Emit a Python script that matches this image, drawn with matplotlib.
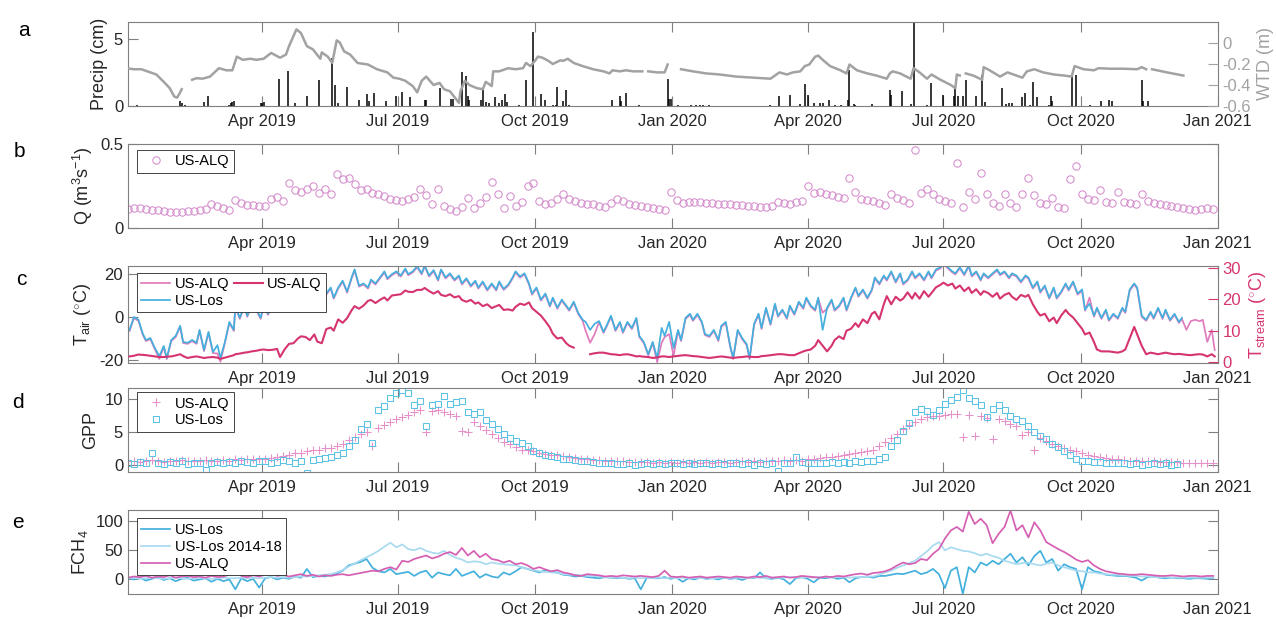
import numpy as np
import matplotlib
matplotlib.use("Agg")
import matplotlib.pyplot as plt
import matplotlib.dates as mdates

plt.rcParams['font.family'] = ['Liberation Sans', 'DejaVu Sans']
plt.rcParams['mathtext.fontset'] = 'custom'
plt.rcParams['mathtext.rm'] = 'Liberation Sans'
plt.rcParams['mathtext.it'] = 'Liberation Sans:italic'
plt.rcParams['mathtext.bf'] = 'Liberation Sans:bold'
plt.rcParams['axes.unicode_minus'] = False

nan = np.nan

# ---------------------------------------------------------------- time axis
START = '2019-01-01'
END = '2021-01-01'
tick_dates = ['2019-04-01', '2019-07-01', '2019-10-01', '2020-01-01',
              '2020-04-01', '2020-07-01', '2020-10-01', '2021-01-01']
tick_labels = ['Apr 2019', 'Jul 2019', 'Oct 2019', 'Jan 2020',
               'Apr 2020', 'Jul 2020', 'Oct 2020', 'Jan 2021']

# ---------------------------------------------------------------- (a) precipitation, cm (day offset from 1 Jan 2019)
precip_days = [6, 35, 36, 38, 51, 54, 68, 69, 70, 71,
               89, 90, 91, 101, 107, 112, 120, 128, 137, 139,
               141, 147, 155, 160, 162, 165, 173, 180, 184, 189,
               199, 200, 209, 217, 218, 224, 227, 228, 229, 237,
               238, 240, 242, 246, 249, 251, 253, 254, 262, 267,
               272, 277, 280, 285, 287, 288, 292, 294, 296, 325,
               330, 331, 334, 343, 362, 363, 364, 369, 378, 381,
               384, 386, 390, 431, 437, 444, 451, 454, 456, 460,
               464, 466, 470, 474, 478, 483, 484, 487, 488, 499,
               511, 512, 519, 525, 527, 536, 539, 547, 554, 555,
               557, 560, 562, 569, 573, 575, 586, 589, 591, 593,
               600, 602, 605, 607, 610, 618, 619, 620, 633, 636,
               645, 653, 658, 660, 680, 681, 684]
precip_cm = [0.05, 0.35, 0.2, 0.05, 0.28, 0.72, 0.1, 0.2, 0.3, 0.35,
             0.2, 0.22, 0.28, 2.05, 2.65, 0.22, 0.72, 1.92, 3.6, 1.6,
             0.22, 1.42, 0.48, 0.88, 0.35, 0.98, 0.35, 0.72, 1.02, 0.65,
             0.45, 0.48, 1.35, 0.55, 0.55, 2.52, 2.27, 0.72, 0.48, 0.48,
             1.27, 0.28, 0.2, 0.68, 0.2, 0.48, 0.92, 0.3, 0.05, 1.98,
             5.52, 0.92, 0.42, 0.05, 0.05, 1.42, 0.35, 1.18, 0.1, 0.42,
             0.72, 0.35, 0.98, 0.1, 2.02, 0.52, 0.52, 0.05, 0.08, 0.08,
             0.1, 0.08, 0.05, 0.08, 0.78, 0.85, 0.15, 1.65, 0.85, 0.2,
             0.2, 0.2, 0.42, 0.1, 0.08, 0.45, 2.68, 0.15, 0.08, 0.18,
             1.18, 0.85, 1.15, 0.15, 6.3, 0.05, 1.72, 0.8, 0.72, 1.42,
             0.72, 0.72, 1.98, 0.72, 2.35, 0.28, 1.35, 0.15, 0.2, 0.2,
             0.68, 0.98, 0.1, 1.78, 0.68, 0.1, 0.72, 0.4, 2.35, 2.35,
             0.08, 0.35, 0.48, 0.4, 1.98, 0.4, 0.35]

# ---------------------------------------------------------------- (a) water table depth, m
wtd_days = [0, 4, 9, 19, 24, 28, 31, 33, 35, 36,
            38, 43, 46, 50, 55, 61, 66, 70, 73, 77,
            82, 86, 91, 96, 102, 106, 108, 113, 116, 120,
            124, 129, 130, 134, 137, 140, 142, 145, 149, 154,
            161, 167, 174, 178, 182, 186, 191, 194, 197, 200,
            205, 209, 212, 216, 222, 223, 226, 229, 234, 238,
            240, 244, 245, 249, 255, 260, 265, 267, 270, 273,
            275, 278, 282, 285, 290, 292, 295, 299, 305, 312,
            319, 323, 325, 330, 334, 339, 345, 347, 349, 355,
            360, 362, 366, 371, 379, 388, 397, 408, 419, 431,
            433, 437, 442, 446, 451, 454, 457, 461, 463, 466,
            471, 478, 482, 484, 489, 496, 502, 509, 511, 513,
            518, 525, 527, 531, 536, 539, 545, 552, 555, 556,
            558, 560, 562, 567, 573, 574, 578, 585, 590, 594,
            600, 603, 608, 614, 621, 628, 633, 635, 641, 648,
            651, 659, 668, 677, 680, 683, 685, 687, 697, 708]
wtd_m = [-0.243, -0.25, -0.25, -0.30, -0.37, -0.43, -0.51, -0.52, -0.47, -0.44,
         nan, -0.35, -0.335, -0.34, -0.32, -0.24, -0.26, -0.26, -0.13, -0.16,
         -0.15, -0.16, -0.15, -0.095, -0.14, -0.11, -0.03, 0.13, 0.095, -0.03,
         -0.06, -0.15, -0.09, -0.13, -0.19, 0.025, 0.006, -0.08, -0.11, -0.19,
         -0.205, -0.25, -0.28, -0.33, -0.34, -0.36, -0.41, -0.47, -0.36, -0.32,
         -0.40, -0.38, -0.44, -0.46, -0.57, -0.46, -0.36, -0.40, -0.43, -0.44,
         -0.37, -0.41, -0.27, -0.27, -0.24, -0.25, -0.24, -0.19, -0.22, -0.17,
         -0.13, -0.14, -0.17, -0.20, -0.165, -0.17, -0.15, -0.19, -0.22, -0.25,
         -0.27, -0.29, -0.26, -0.27, -0.26, -0.27, -0.27, nan, -0.27, -0.28,
         -0.28, -0.205, nan, -0.25, -0.27, -0.29, -0.30, -0.32, -0.33, -0.34,
         -0.32, -0.28, -0.30, -0.28, -0.27, -0.22, -0.205, -0.13, -0.12, -0.16,
         -0.22, -0.26, -0.29, -0.205, -0.26, -0.29, -0.31, -0.34, -0.29, -0.27,
         -0.29, -0.34, -0.24, -0.28, -0.34, -0.30, -0.35, -0.40, -0.43, -0.30,
         -0.31, nan, -0.29, -0.31, -0.35, -0.23, -0.26, -0.32, -0.28, -0.30,
         -0.33, -0.27, -0.25, -0.28, -0.30, -0.31, -0.32, -0.22, -0.25, -0.26,
         -0.24, -0.245, -0.245, -0.25, -0.23, -0.25, nan, -0.25, -0.28, -0.31]

# ---------------------------------------------------------------- 4-day sampled series (days 0, 4, ..., 728)
q_alq = [0.115, 0.12, 0.122, 0.113, 0.108, 0.105, 0.10, 0.098, 0.096, 0.095,
         0.10, 0.103, 0.106, 0.112, 0.14, 0.128, 0.12, 0.11, 0.165, 0.15,
         0.138, 0.136, 0.133, 0.13, 0.175, 0.185, 0.163, 0.27, 0.225, 0.215,
         0.23, 0.25, 0.21, 0.235, 0.2, 0.32, 0.29, 0.295, 0.26, 0.225,
         0.235, 0.21, 0.2, 0.19, 0.17, 0.165, 0.16, 0.175, 0.185, 0.23,
         0.195, 0.14, 0.235, 0.13, 0.115, 0.10, 0.125, 0.18, 0.12, 0.15,
         0.185, 0.275, 0.2, 0.12, 0.19, 0.13, 0.155, 0.25, 0.265, 0.16,
         0.14, 0.15, 0.17, 0.2, 0.175, 0.16, 0.15, 0.145, 0.14, 0.13,
         0.123, 0.15, 0.17, 0.16, 0.14, 0.135, 0.13, 0.125, 0.12, 0.113,
         0.11, 0.215, 0.165, 0.15, 0.152, 0.155, 0.153, 0.15, 0.148, 0.145,
         0.143, 0.14, 0.138, 0.135, 0.132, 0.128, 0.125, 0.123, 0.128, 0.155,
         0.148, 0.14, 0.155, 0.16, 0.25, 0.21, 0.215, 0.2, 0.195, 0.185,
         0.178, 0.295, 0.215, 0.17, 0.165, 0.16, 0.15, 0.135, 0.205, 0.18,
         0.165, 0.15, 0.466, 0.21, 0.235, 0.2, 0.175, 0.16, 0.15, 0.387,
         0.125, 0.215, 0.17, 0.327, 0.2, 0.15, 0.13, 0.2, 0.15, 0.125,
         0.2, 0.298, 0.198, 0.15, 0.14, 0.178, 0.125, 0.118, 0.294, 0.367,
         0.2, 0.175, 0.165, 0.225, 0.155, 0.15, 0.215, 0.155, 0.148, 0.145,
         0.205, 0.16, 0.15, 0.143, 0.138, 0.13, 0.125, 0.12, 0.115, 0.11,
         0.115, 0.118, 0.115]

gpp_alq = [0.6, 0.7, 0.5, 0.6, 0.8, 0.6, 0.5, 0.7, 0.6, 0.8,
           0.6, 0.7, 0.6, 0.8, 0.7, 0.6, 0.8, 0.7, 0.9, 0.8,
           0.9, 1.0, 0.9, 1.0, 1.1, 1.3, 1.4, 1.6, 1.8, 1.9,
           2.1, 2.3, 2.4, 2.6, 2.7, 3.0, 3.3, 3.8, 4.3, 4.7,
           5.0, 3.0, 5.6, 6.1, 6.5, 7.0, 7.3, 7.6, 8.0, 8.3,
           5.0, 8.2, 8.4, 8.0, 7.8, 7.5, 5.2, 5.0, 6.5, 6.0,
           5.3, 4.8, 4.2, 3.6, 3.2, 2.8, 2.4, 2.3, 2.2, 1.9,
           1.7, 1.6, 1.5, 1.4, 1.2, 1.1, 1.0, 0.9, 0.8, 0.8,
           0.7, 0.7, 0.6, 0.6, 0.5, 0.5, 0.5, 0.5, 0.4, 0.5,
           0.4, 0.5, 0.4, 0.5, 0.4, 0.5, 0.4, 0.5, 0.4, 0.5,
           0.5, 0.4, 0.5, 0.6, 0.5, 0.6, 0.5, 0.6, 0.7, 0.6,
           0.8, 0.7, 0.8, 0.7, 0.9, 1.0, 1.1, 1.2, 1.3, 1.4,
           1.5, 1.7, 1.8, 2.0, 2.2, 2.4, 3.0, 3.6, 4.2, 4.8,
           5.5, 6.1, 6.6, 7.0, 7.3, 7.4, 7.5, 7.6, 7.7, 7.7,
           4.3, 7.6, 4.5, 7.4, 7.2, 4.0, 7.0, 6.7, 6.3, 5.9,
           4.6, 5.0, 2.3, 4.1, 3.7, 3.3, 3.0, 2.7, 2.4, 2.1,
           1.8, 1.6, 1.4, 1.2, 1.1, 1.0, 0.9, 0.8, 0.7, 0.7,
           0.6, 0.6, 0.6, 0.5, 0.5, 0.5, 0.5, 0.4, 0.4, 0.4,
           0.4, 0.4, 0.4]

gpp_los = [0.4, 0.2, 0.5, 0.3, 1.9, 0.4, 0.2, 0.5, 0.3, 0.6,
           0.2, 0.4, 0.3, -0.7, 0.4, 0.5, 0.3, 0.5, 0.4, 0.6,
           0.5, 0.3, 0.6, 0.7, 0.4, 0.5, 0.8, 0.6, 0.3, 0.7,
           -1.2, 0.8, 0.9, 1.1, 1.3, 1.5, 1.9, 2.9, 3.8, 5.5,
           6.3, 3.4, 8.3, 9.0, 10.2, 11.0, 11.4, 10.9, 9.2, 9.8,
           6.0, 9.1, 9.3, 10.5, 9.3, 9.6, 9.8, 8.1, 7.8, 8.0,
           6.8, 6.3, 5.5, 4.7, 4.2, 3.7, 3.4, 3.0, 2.2, 1.9,
           1.6, 1.4, 1.2, 1.0, 0.9, 0.8, 0.7, 0.6, 0.5, 0.4,
           0.3, 0.4, 0.2, 0.2, 0.3, 0.1, 0.2, 0.3, 0.2, 0.3,
           0.2, 0.4, 0.3, 0.2, 0.3, 0.2, 0.4, 0.3, 0.2, 0.3,
           0.2, 0.3, 0.4, 0.2, 0.3, 0.1, 0.3, 0.2, 0.3, -0.8,
           0.4, 0.3, 1.3, 0.5, 0.4, 0.3, 0.4, 0.3, 0.5, 0.4,
           0.5, 0.4, 0.6, 0.5, 0.6, 0.7, 0.9, 1.3, 3.0, 3.8,
           5.2, 6.4, 8.0, 8.6, 8.2, 7.6, 8.4, 9.3, 9.9, 10.4,
           11.4, 10.2, 9.8, 9.1, 7.3, 8.6, 9.1, 8.3, 7.4, 7.0,
           6.7, 5.9, 5.1, 4.5, 4.0, 3.2, 2.8, 2.1, 1.6, 0.9,
           0.7, 0.6, 0.5, 0.5, 0.4, 0.4, 0.3, 0.3, 0.2, 0.3,
           0.1, 0.2, 0.3, 0.2, 0.3, 0.1, 0.2, nan, nan, nan,
           nan, nan, nan]

fch4_los = [2, 0, 3, -2, 1, 4, -1, 2, -3, 1,
            3, -2, 0, 2, -4, 1, -3, 0, -17, 2,
            -3, 1, -14, 2, 4, 0, 3, 1, 5, 3,
            18, 4, 6, 5, 8, 10, 15, 24, 27, 30,
            35, 20, 14, 12, 18, 9, 11, 13, 6, 12,
            15, 3, 12, 9, 7, 18, 6, 10, 14, 3,
            9, 5, 3, 12, 8, 14, 21, 18, 15, 12,
            16, 13, 12, 8, 7, 5, 6, 4, 3, 2,
            4, 3, 2, 3, 1, 2, -17, 3, 2, 2,
            4, 1, 3, -4, 2, 0, 3, 1, 2, 0,
            3, 1, 2, -1, 3, 2, 12, 2, 1, 3,
            0, -8, 2, 4, 1, -5, 3, 2, 4, 1,
            3, -5, 2, 4, 5, 3, 6, 6, 8, 10,
            9, 12, 15, 9, 12, 18, 9, -15, 15, 21,
            -25, 21, 12, 29, 24, 32, 26, 35, 44, 29,
            38, 24, 40, 49, 29, 35, 15, 26, 21, 18,
            -17, 21, 14, 12, 8, 7, 6, 6, 5, 3,
            -2, 4, 5, 3, 2, 3, 2, 2, 1, 2,
            2, 1, 2]

fch4_los_2014_18 = [2, 3, 1, 2, 3, 2, 1, 2, 3, 2,
                    1, 2, 3, 2, 1, 2, 3, 2, 2, 3,
                    2, 3, 2, 3, 4, 3, 4, 3, 4, 5,
                    5, 6, 7, 8, 9, 12, 16, 22, 27, 33,
                    38, 43, 49, 56, 63, 55, 60, 52, 50, 54,
                    49, 46, 44, 49, 42, 37, 34, 29, 31, 30,
                    26, 29, 27, 26, 25, 24, 21, 18, 16, 14,
                    13, 12, 11, 9, 8, 8, 7, 6, 6, 5,
                    4, 3, 3, 3, 2, 3, 2, 3, 2, 3,
                    2, 3, 2, 3, 2, 3, 2, 3, 2, 3,
                    3, 2, 3, 3, 2, 3, 3, 2, 3, 3,
                    3, 4, 3, 3, 4, 3, 4, 4, 3, 4,
                    4, 3, 4, 4, 5, 5, 8, 12, 15, 20,
                    24, 28, 32, 40, 48, 58, 64, 50, 55, 52,
                    49, 48, 45, 41, 44, 40, 37, 32, 29, 26,
                    28, 29, 26, 24, 27, 29, 24, 21, 18, 15,
                    14, 12, 12, 10, 9, 8, 8, 7, 6, 6,
                    5, 5, 4, 4, 4, 3, 3, 3, 3, 3,
                    3, 3, 3]

fch4_alq = [3, 5, 4, 6, 3, 5, 4, 7, 3, 5,
            6, 4, 5, 3, 6, 4, 5, 8, 15, 6,
            4, 7, 5, 8, 12, 6, 8, 5, 7, 9,
            6, 8, 5, 7, 6, 8, 9, 7, 9, 11,
            13, 15, 14, 18, 21, 17, 32, 30, 35, 38,
            41, 36, 39, 44, 47, 42, 54, 41, 49, 38,
            44, 35, 33, 29, 32, 26, 28, 24, 18, 21,
            17, 14, 16, 12, 10, 7, 6, 9, 8, 7,
            5, 6, 5, 7, 6, 5, 6, 5, 4, 6,
            15, 5, 4, 5, 3, 4, 5, 3, 4, 5,
            4, 3, 5, 4, 3, 5, 4, 6, 3, 4,
            5, 3, 4, 6, 5, 4, 3, 5, 4, 6,
            5, 7, 9, 10, 8, 11, 12, 14, 18, 24,
            29, 26, 28, 35, 33, 44, 52, 70, 84, 90,
            82, 116, 95, 104, 93, 62, 78, 90, 118, 84,
            93, 72, 98, 84, 64, 58, 52, 47, 41, 34,
            30, 33, 24, 18, 14, 12, 10, 9, 8, 8,
            9, 8, 7, 6, 6, 7, 6, 5, 6, 6,
            5, 6, 6]

# ---------------------------------------------------------------- (c) temperatures, deg C
tair_days = [1, 4, 7, 10, 12, 15, 18, 21, 24, 26,
             29, 32, 35, 37, 40, 43, 46, 48, 51, 54,
             57, 60, 62, 65, 68, 71, 72, 75, 78, 80,
             83, 86, 89, 91, 94, 97, 100, 102, 105, 108,
             111, 114, 116, 119, 122, 125, 127, 130, 133, 136,
             138, 141, 144, 147, 150, 152, 155, 158, 161, 163,
             166, 169, 172, 174, 177, 180, 183, 186, 188, 191,
             194, 197, 199, 202, 205, 208, 210, 213, 216, 219,
             222, 224, 227, 230, 233, 235, 238, 241, 244, 247,
             249, 252, 255, 258, 260, 263, 266, 269, 271, 274,
             277, 280, 283, 285, 288, 291, 294, 296, 299, 302,
             305, 307, 310, 313, 316, 319, 321, 324, 327, 330,
             332, 335, 338, 341, 343, 346, 349, 352, 355, 358,
             360, 363, 366, 369, 371, 374, 377, 379, 382, 385,
             387, 390, 393, 396, 398, 401, 404, 406, 409, 412,
             415, 417, 420, 423, 425, 428, 431, 434, 436, 439,
             442, 444, 447, 450, 453, 455, 458, 461, 463, 466,
             469, 472, 474, 477, 480, 482, 485, 488, 490, 493,
             496, 499, 501, 504, 507, 509, 512, 515, 518, 520,
             523, 526, 528, 531, 534, 537, 539, 542, 545, 547,
             550, 553, 555, 558, 561, 564, 566, 569, 572, 574,
             577, 580, 583, 585, 588, 591, 593, 596, 599, 602,
             604, 607, 610, 612, 615, 618, 621, 623, 626, 629,
             631, 634, 637, 640, 642, 645, 648, 650, 653, 656,
             658, 661, 664, 667, 669, 672, 675, 677, 680, 683,
             686, 688, 691, 694, 696, 699, 702, 705, 707, 710,
             713, 716, 719, 721, 724, 727, 729]

tair_alq = [-6.5, -0.5, -1.8, -8.4, -11.2, -10.3, -15, -19.5, -14, -19.6,
            -11.2, -9.3, -4.6, -12.1, -12.5, -11.2, -12.5, -6.5, -15.9, -7.4,
            -16.8, -17, -20.8, -12.1, -2.8, -6.5, 4.8, -0.9, 4.8, 0.1,
            5.7, 3.3, -0.9, 4.8, 1, 7.6, 2.9, 10.4, 2.9, 9.4,
            4.8, 12.3, 7.6, 12.3, 6.6, 11.3, 4.8, 2.9, 10.4, 13.2,
            8.5, 13.2, 16.4, 11.3, 17.9, 21.6, 14.1, 15.1, 13.2, 16.9,
            15.1, 17.9, 20.7, 17.5, 19.4, 20.7, 18.8, 22, 19.4, 20.7,
            23.1, 19.8, 23.5, 18.8, 21.3, 16.9, 21.6, 17.9, 19.8, 16.9,
            18.8, 15.1, 17.5, 14.1, 16.4, 13.2, 16, 12.3, 15.1, 12.3,
            16, 12.6, 14.5, 17.9, 20.7, 18.3, 19.8, 15.1, 10.4, 13.2,
            7.6, 10.4, 4.8, 8.5, 3.8, 7.6, 4.8, 2.9, 6.6, 1.4,
            -1.8, -6.5, -12, -8, -2.4, -7.4, -4.6, 0.1, -6.5, -2.8,
            -7.4, -2.8, -5.6, -0.9, -9.3, -12.1, -17.8, -12.1, -21, -12,
            -9.3, -8, -18, -6.5, -11.2, -0.9, 1, -1.8, 1, -2.8,
            -8.4, -9.3, -6.5, -11.2, -4.6, -2.8, -14, -19.6, -6.5, -10.3,
            -13.1, -19.6, -3.7, 1, -5.6, 3.8, -3.7, 5.7, 0.1, 2.9,
            -0.9, 4.8, 1, 6.6, 3.8, 8.5, 4.8, 2.9, 8.5, 2,
            3.8, 7.6, 2.9, 4.8, 8.5, 2.9, 8.5, 13.2, 9.4, 12.3,
            8.5, 12.3, 17.9, 15.1, 18.8, 16.9, 20.7, 16, 19.8, 15.1,
            16.9, 20.7, 17.9, 19.8, 16.9, 20.7, 17.9, 21.6, 22.6, 24.5,
            22.6, 20.7, 19.8, 22.6, 19.4, 23.5, 18.8, 20.7, 16.9, 19.8,
            17.9, 19.8, 21.6, 19.4, 20.7, 17.9, 19.8, 18.8, 16, 18.8,
            17.9, 13.2, 16, 11.3, 14.1, 8.5, 13.2, 8.5, 11.3, 15.1,
            12.3, 16, 10.4, 12.3, 2.9, 9, 0.1, 3.8, -0.9, 2.9,
            -1.8, 1, -0.9, 3.8, 1.9, 12.3, 15.1, 13.2, 0.1, -1.8,
            1.9, -0.9, 3.8, -0.9, 2.9, -1.8, 1, -2.8, -0.9, -6,
            -1.9, -1.3, -2, -1.3, -11.6, -6, -15.4]

tair_los = [-6, 0, -1.3, -7.9, -10.7, -9.8, -14.4, -18.2, -13.5, -19.1,
            -10.7, -8.8, -4.1, -11.6, -12, -10.7, -12, -6, -15.4, -6.9,
            -16.3, -13.1, -19.1, -11.6, -2.3, -6, 5.3, -0.4, 5.3, 0.6,
            6.2, 3.8, -0.4, 5.3, 1.5, 8.1, 3.4, 10.9, 3.4, 9.9,
            5.3, 12.8, 8.1, 12.8, 7.1, 11.8, 5.3, 3.4, 10.9, 13.7,
            9, 13.7, 16.9, 11.8, 18.4, 22.1, 14.6, 15.6, 13.7, 17.4,
            15.6, 18.4, 21.2, 18, 19.9, 21.2, 19.3, 22.5, 19.9, 21.2,
            23.6, 20.3, 24, 19.3, 21.8, 17.4, 22.1, 18.4, 20.3, 17.4,
            19.3, 15.6, 18, 14.6, 16.9, 13.7, 16.5, 12.8, 15.6, 12.8,
            16.5, 13.1, 15, 18.4, 21.2, 18.8, 20.3, 15.6, 10.9, 13.7,
            8.1, 10.9, 5.3, 9, 4.3, 8.1, 5.3, 3.4, 7.1, 1.9,
            -1.3, -2.3, -6, -3.2, -1.9, -6.9, -4.1, 0.6, -6, -2.3,
            -6.9, -2.3, -5.1, -0.4, -8.8, -11.6, -17.3, -11.6, -19.1, -5.1,
            -8.8, -2.3, -14.4, -6, -10.7, -0.4, 1.5, -1.3, 1.5, -2.3,
            -7.9, -8.8, -6, -10.7, -4.1, -2.3, -13.5, -19.1, -6, -9.8,
            -12.6, -19.1, -3.2, 1.5, -5.1, 4.3, -3.2, 6.2, 0.6, 3.4,
            -0.4, 5.3, 1.5, 7.1, 4.3, 9, 5.3, 3.4, 9, -6,
            4.3, 8.1, 3.4, 5.3, 9, 3.4, 9, 13.7, 9.9, 12.8,
            9, 12.8, 18.4, 15.6, 19.3, 17.4, 21.2, 16.5, 20.3, 15.6,
            17.4, 21.2, 18.4, 20.3, 17.4, 21.2, 18.4, 22.1, 23.1, 25,
            23.1, 21.2, 20.3, 23.1, 19.9, 24, 19.3, 21.2, 17.4, 20.3,
            18.4, 20.3, 22.1, 19.9, 21.2, 18.4, 20.3, 19.3, 16.5, 19.3,
            18.4, 13.7, 16.5, 11.8, 14.6, 9, 13.7, 9, 11.8, 15.6,
            12.8, 16.5, 10.9, 12.8, 3.4, 6.2, 0.6, 4.3, -0.4, 3.4,
            -1.3, 1.5, -0.4, 4.3, 2.4, 12.8, 15.6, 13.7, 0.6, -1.3,
            2.4, -0.4, 4.3, -0.4, 3.4, -1.3, 1.5, -2.3, -0.4, nan,
            nan, nan, nan, nan, nan, nan, nan]

tstream_alq = [1.8, 2.0, 2.4, 2.3, 2.2, 2.0, 1.8, 1.6, 1.6, 1.7,
               1.8, 2.1, 2.5, 1.9, 1.3, 1.6, 1.8, 1.6, 1.3, 1.5,
               1.6, 1.4, 1.0, 1.4, 1.8, 2.2, 2.5, 2.7, 3.0, 3.1,
               3.4, 3.6, 3.9, 4.0, 3.8, 3.9, 4.2, 1.6, 4.0, 5.8,
               6.0, 7.5, 8.2, 8.0, 7.0, 8.8, 6.5, 6.0, 10.5, 11.0,
               10.0, 13.6, 12.5, 14.0, 16.5, 17.8, 17.0, 18.0, 19.5, 19.8,
               18.8, 19.8, 20.6, 19.6, 21.2, 21.4, 21.6, 22.8, 22.4, 22.3,
               23.0, 23.0, 23.6, 22.6, 21.8, 22.6, 21.4, 21.0, 21.6, 20.6,
               21.0, 19.8, 19.2, 19.8, 18.6, 19.0, 17.8, 18.4, 17.2, 17.8,
               18.2, 16.6, 16.8, 16.4, 17.6, 18.6, 18.2, 19.0, 17.2, 16.0,
               14.8, 13.0, 11.0, 9.0, 7.5, 7.8, 6.0, 5.2, 4.6, nan,
               nan, nan, 2.5, 2.8, 3.0, 3.0, 2.8, 2.5, 2.4, 2.2,
               2.4, 2.5, 2.2, 1.8, 1.9, 1.7, 1.6, 1.3, 1.5, 1.8,
               1.8, 1.6, 1.8, 2.0, 2.1, 2.2, 2.0, 1.9, 1.8, 1.6,
               1.5, 1.3, 1.5, 1.7, 1.8, 1.6, 1.4, 1.3, 1.5, 1.6,
               1.8, 1.7, 1.6, 1.6, 1.9, 2.0, 2.2, 2.4, 2.5, 2.5,
               2.3, 2.2, 2.2, 2.8, 3.4, 3.7, 4.0, 5.2, 7.0, 5.2,
               3.4, 5.2, 7.0, 8.2, 7.3, 10.0, 10.6, 12.4, 11.2, 13.6,
               12.4, 15.4, 16.0, 13.6, 18.4, 21.0, 18.4, 20.8, 19.6, 20.2,
               22.2, 20.2, 22.0, 20.2, 22.6, 20.8, 22.0, 23.8, 24.6, 25.3,
               24.4, 25.0, 23.4, 24.4, 22.6, 23.8, 22.0, 23.2, 21.4, 22.6,
               22.0, 20.8, 22.0, 20.2, 21.4, 22.0, 20.8, 19.8, 21.4, 20.8,
               21.4, 18.4, 16.0, 14.8, 15.4, 13.0, 14.2, 12.4, 14.8, 16.6,
               15.4, 14.2, 12.4, 10.6, 8.8, 9.4, 6.4, 4.0, 3.4, 3.4,
               3.4, 3.2, 3.0, 3.4, 4.0, 7.6, 11.2, 8.8, 5.2, 2.5,
               3.0, 2.8, 2.5, 2.8, 3.0, 2.7, 2.5, 2.6, 2.5, 2.3,
               2.2, 2.4, 2.5, 2.4, 1.8, 2.5, 1.8]

# ---------------------------------------------------------------- helpers
T0 = mdates.datestr2num(START)
T1 = mdates.datestr2num(END)


def on_time(days):
    return T0 + np.asarray(days, dtype=float)


grid4 = on_time(np.arange(0, 729, 4))

SPINE = '#7f7f7f'
TXT = '#262626'
ALQ_PINK = '#e07cbd'
STREAM_RED = '#d63470'
LOS_BLUE = '#44b0dd'
LOS_LIGHT = '#a8daf0'
ALQ_CH4 = '#d65fb3'
WTD_GREY = '#a2a2a2'


def style(ax, right=True):
    for s in ax.spines.values():
        s.set_color(SPINE)
        s.set_linewidth(0.8)
    ax.set_xlim(T0, T1)
    ax.set_xticks(mdates.datestr2num(tick_dates))
    ax.set_xticklabels(tick_labels)
    ax.tick_params(direction='in', length=7, width=0.8, color=SPINE,
                   labelcolor=TXT, labelsize=12, top=True, right=right)
    ax.tick_params(axis='x', pad=6)


def legend(ax, handles, labels, y, **kw):
    opts = dict(loc='upper left', bbox_to_anchor=(0.008, y), fontsize=10.5,
                frameon=True, fancybox=False, framealpha=1, edgecolor=TXT,
                borderpad=0.3, handlelength=2.0, handletextpad=0.3,
                labelspacing=0.2, borderaxespad=0)
    opts.update(kw)
    lg = ax.legend(handles, labels, **opts)
    lg.get_frame().set_linewidth(0.6)
    return lg


fig = plt.figure(figsize=(12.76, 6.19), dpi=100)
FW, FH = 1276.0, 619.0
left, width = 128 / FW, 1089.7 / FW
# (top, bottom) of every panel in pixels from the top edge
rows = [(22, 106), (144, 228), (266, 363), (388, 472), (510, 594)]
axs = [fig.add_axes([left, 1 - b / FH, width, (b - t) / FH]) for t, b in rows]

# ---------------------------------------------------------------- (a)
ax = axs[0]
style(ax, right=False)
ax.vlines(on_time(precip_days), 0, precip_cm, color='k', lw=1.1)
ax.set_ylim(0, 6.3)
ax.set_yticks([0, 5])
ax.set_yticklabels(['0', '5'])
ax.set_ylabel('Precip (cm)', fontsize=13, color=TXT)
axw = ax.twinx()
axw.plot(on_time(wtd_days), wtd_m, color=WTD_GREY, lw=1.8)
axw.set_xlim(T0, T1)
axw.set_ylim(-0.6, 0.2)
axw.set_yticks([-0.6, -0.4, -0.2, 0])
axw.set_yticklabels(['-0.6', '-0.4', '-0.2', '0'])
axw.tick_params(axis='y', direction='in', length=7, width=0.8, color=WTD_GREY,
                labelcolor=WTD_GREY, labelsize=12)
for s in axw.spines.values():
    s.set_visible(False)
axw.set_ylabel('WTD (m)', fontsize=13, color=WTD_GREY)

# ---------------------------------------------------------------- (b)
ax = axs[1]
style(ax)
hq, = ax.plot(grid4, q_alq, ls='none', marker='o', ms=5.3, mfc='none',
              mec='#d48ccb', mew=0.75)
ax.set_ylim(0, 0.5)
ax.set_yticks([0, 0.5])
ax.set_yticklabels(['0', '0.5'])
ax.set_ylabel('Q (m$^3$s$^{-1}$)', fontsize=13, color=TXT)
legend(ax, [hq], ['US-ALQ'], 0.93)

# ---------------------------------------------------------------- (c)
ax = axs[2]
style(ax, right=False)
tdates = on_time(tair_days)
h1, = ax.plot(tdates, tair_alq, color=ALQ_PINK, lw=1.25)
h2, = ax.plot(tdates, tair_los, color=LOS_BLUE, lw=1.25)
ax.set_ylim(-21.4, 23.7)
ax.set_yticks([-20, 0, 20])
ax.set_yticklabels(['-20', '0', '20'])
ax.set_ylabel('T$_{\\rm air}$ ($^{\\circ}$C)', fontsize=13, color=TXT)
axt = ax.twinx()
h3, = axt.plot(tdates, tstream_alq, color=STREAM_RED, lw=1.5)
axt.set_xlim(T0, T1)
axt.set_ylim(-0.3, 30.6)
axt.set_yticks([0, 10, 20, 30])
axt.set_yticklabels(['0', '10', '20', '30'])
axt.tick_params(axis='y', direction='in', length=7, width=0.8, color=STREAM_RED,
                labelcolor=STREAM_RED, labelsize=12)
for s in axt.spines.values():
    s.set_visible(False)
axt.set_ylabel('T$_{\\rm stream}$ ($^{\\circ}$C)', fontsize=13, color=STREAM_RED)
legend(axt, [h1, h2, h3], ['US-ALQ', 'US-Los', 'US-ALQ'], 0.93, ncol=2,
       columnspacing=0.3)

# ---------------------------------------------------------------- (d)
ax = axs[3]
style(ax)
hg1, = ax.plot(grid4, gpp_alq, ls='none', marker='+', ms=5.5,
               color='#e68fc9', mew=0.75)
hg2, = ax.plot(grid4, gpp_los, ls='none', marker='s', ms=4.5, mfc='none',
               mec='#5cc2e4', mew=0.75)
ax.set_ylim(-1.0, 11.7)
ax.set_yticks([0, 5, 10])
ax.set_yticklabels(['0', '5', '10'])
ax.set_ylabel('GPP', fontsize=13, color=TXT)
legend(ax, [hg1, hg2], ['US-ALQ', 'US-Los'], 0.95)

# ---------------------------------------------------------------- (e)
ax = axs[4]
style(ax)
he1, = ax.plot(grid4, fch4_los, color=LOS_BLUE, lw=1.25)
he2, = ax.plot(grid4, fch4_los_2014_18, color=LOS_LIGHT, lw=1.25)
he3, = ax.plot(grid4, fch4_alq, color=ALQ_CH4, lw=1.25)
ax.set_ylim(-25, 119)
ax.set_yticks([0, 50, 100])
ax.set_yticklabels(['0', '50', '100'])
ax.set_ylabel('FCH$_4$', fontsize=13, color=TXT)
legend(ax, [he1, he2, he3], ['US-Los', 'US-Los 2014-18', 'US-ALQ'], 0.9)

# ---------------------------------------------------------------- panel letters
for letter, (px, py) in zip('abcde', [(24, 30), (19, 152), (21, 279),
                                      (18, 402), (18, 523)]):
    fig.text(px / FW, 1 - py / FH, letter, fontsize=15, color='k',
             ha='center', va='center')

fig.savefig('out.png', dpi=100)
